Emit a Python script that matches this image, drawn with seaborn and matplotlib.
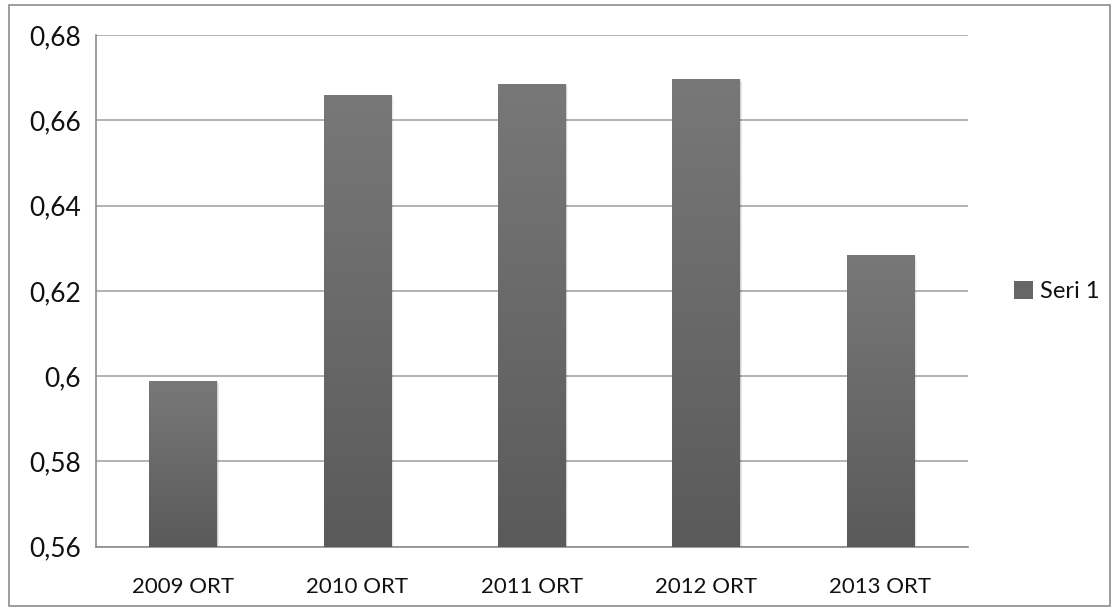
"""
Yearly averages (ORT) bar chart, Excel style with grey gradient bars
"""

import matplotlib.pyplot as plt
import matplotlib.ticker as mticker
from matplotlib.colors import LinearSegmentedColormap
from matplotlib.patches import Rectangle
import numpy as np
import pandas as pd
import seaborn as sns

# data
years = ['2009 ORT', '2010 ORT', '2011 ORT', '2012 ORT', '2013 ORT']
values = [0.5988, 0.6659, 0.6684, 0.6696, 0.6284]
series_name = 'Seri 1'

y_ticks = [0.56, 0.58, 0.60, 0.62, 0.64, 0.66, 0.68]
y_min, y_max = 0.56, 0.68

sns.set_style('white')
plt.rcParams['font.family'] = ['Lato', 'DejaVu Sans']
plt.rcParams['text.color'] = '#111111'
plt.rcParams['xtick.color'] = '#111111'
plt.rcParams['ytick.color'] = '#111111'

df = pd.DataFrame({'year': years, 'value': values})

fig = plt.figure(figsize=(11.19, 6.13), dpi=100)
ax = fig.add_axes([0.0858, 0.108, 0.779, 0.835])

sns.barplot(data=df, x='year', y='value', color='#666666', width=0.39,
            ax=ax, zorder=3, saturation=1)

ax.set_xlim(-0.5, len(years) - 0.5)
ax.set_ylim(y_min, y_max)
ax.set_yticks(y_ticks)
ax.yaxis.set_major_formatter(mticker.FuncFormatter(
    lambda v, p: ('%.2f' % v).rstrip('0').replace('.', ',')))

# gradient fill for each bar (lighter top, darker bottom)
cmap = LinearSegmentedColormap.from_list('g', ['#5a5a5a', '#787878'])
grad = np.linspace(0, 1, 256).reshape(-1, 1)
for patch in list(ax.patches):
    x0, w = patch.get_x(), patch.get_width()
    top = patch.get_y() + patch.get_height()
    # soft shadow on the right side
    for k, a in enumerate([0.10, 0.06, 0.03]):
        sh = Rectangle((x0 + 0.004 * (k + 1), y_min), w, top - y_min - 0.0003 * k,
                       facecolor='#000000', alpha=a, edgecolor='none', zorder=2.5)
        ax.add_patch(sh)
    ax.imshow(grad, cmap=cmap, origin='lower', aspect='auto',
              extent=[x0, x0 + w, y_min, top], zorder=3.5)
    patch.set_edgecolor('none')

ax.set_xlim(-0.5, len(years) - 0.5)
ax.set_ylim(y_min, y_max)

# grid
ax.yaxis.grid(True, color='#a6a6a6', linewidth=1.2, zorder=1)
ax.set_axisbelow(True)

for s in ['top', 'right']:
    ax.spines[s].set_visible(False)
for s in ['left', 'bottom']:
    ax.spines[s].set_color('#8c8c8c')
    ax.spines[s].set_linewidth(1.2)

# category separator ticks below the axis
ax.set_xticks(np.arange(-0.5, len(years), 1.0), minor=True)
ax.tick_params(axis='x', which='minor', length=7, color='#8c8c8c', width=1)
ax.tick_params(axis='x', which='major', length=0, pad=22, labelsize=16)
ax.tick_params(axis='y', which='major', length=7, color='#8c8c8c', width=1,
               labelsize=19, pad=4)
ax.set_xlabel('')
ax.set_ylabel('')

# legend
handle = Rectangle((0, 0), 1, 1, facecolor='#666666', edgecolor='none')
fig.legend([handle], [series_name], loc='center left',
           bbox_to_anchor=(0.887, 0.525), frameon=False, fontsize=17,
           handlelength=0.8, handleheight=0.8, handletextpad=0.3)

# outer border of the chart area
border = Rectangle((0.008, 0.012), 0.984, 0.98, transform=fig.transFigure,
                   fill=False, edgecolor='#8c8c8c', linewidth=1.2)
fig.patches.append(border)

fig.savefig('out.png', dpi=100)
